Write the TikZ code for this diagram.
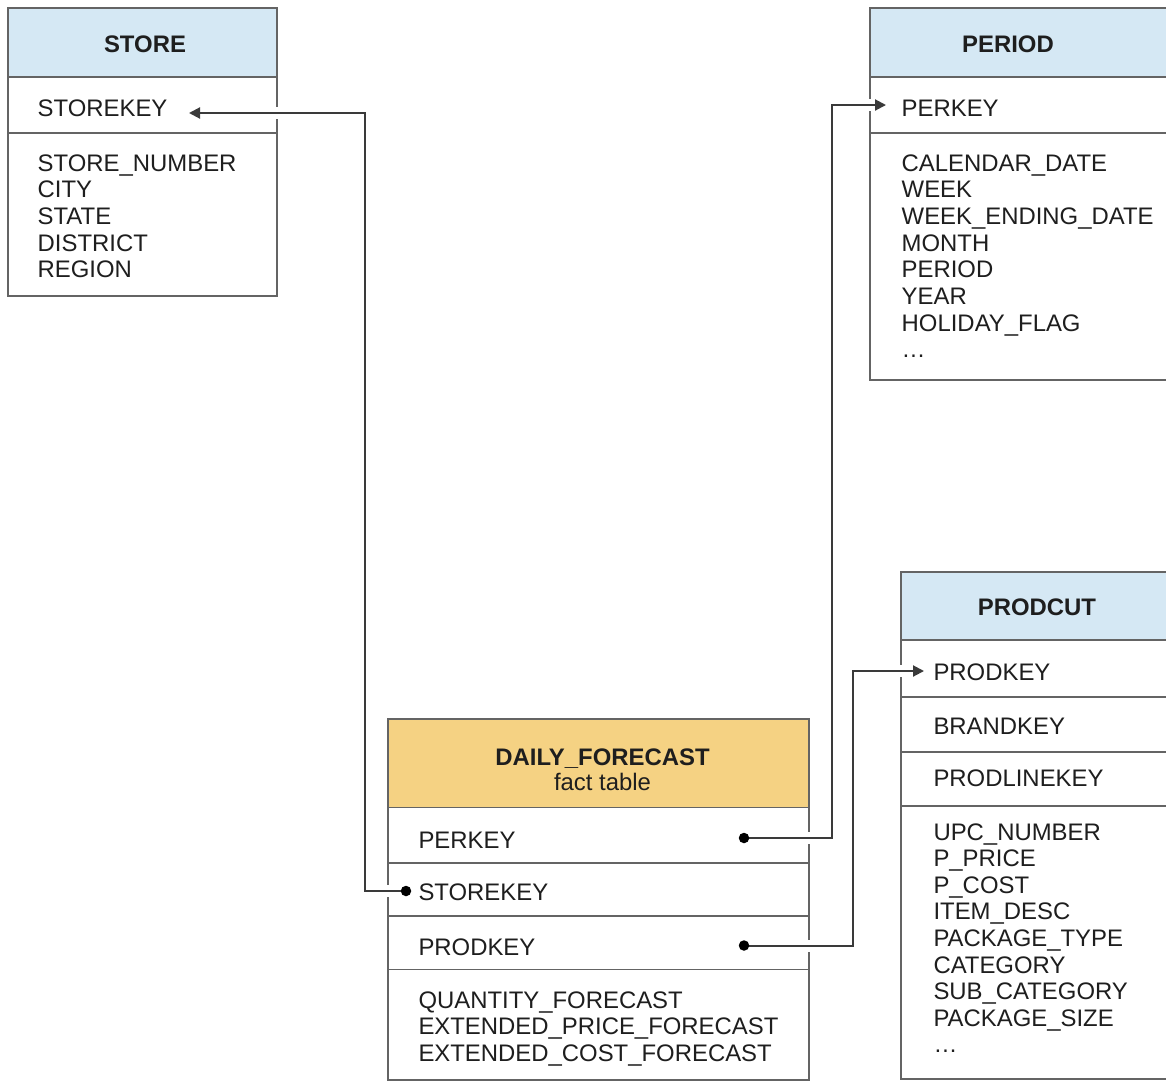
\documentclass[tikz,border=0pt]{standalone}
\usepackage{fontspec}
\setmainfont{Liberation Sans}
\usetikzlibrary{arrows.meta}
\definecolor{bordergray}{HTML}{646464}
\definecolor{conncol}{HTML}{3A3A3A}
\definecolor{textcol}{HTML}{1E1E1E}
\definecolor{hdrblue}{HTML}{D5E8F4}
\definecolor{hdrgold}{HTML}{F5D283}
\tikzset{
  tablebox/.style={draw=bordergray, line width=1.8pt},
  hdrfill/.style={draw=bordergray, line width=1.8pt, fill=#1},
  sepline/.style={draw=bordergray, line width=1.8pt},
  txt/.style={anchor=base west, inner sep=0pt, text=textcol, font=\fontsize{23.9}{26.7}\selectfont},
  hdr/.style={anchor=base, inner sep=0pt, text=textcol, font=\fontsize{23.9}{26.7}\selectfont\bfseries},
  sub/.style={anchor=base, inner sep=0pt, text=textcol, font=\fontsize{23.9}{26.7}\selectfont},
  conn/.style={draw=conncol, line width=2pt},
  arr/.style={-{Triangle[length=11pt,width=11pt]}},
  halo/.style={draw=white, line width=12pt, line cap=butt},
  keydot/.style={circle, fill=black, inner sep=0pt, minimum size=10.5pt}
}
\begin{document}
\begin{tikzpicture}[x=1pt,y=-1pt]
\useasboundingbox[fill=white] (0,0) rectangle (1166,1082);

% ---------- STORE ----------
\draw[hdrfill=hdrblue] (8,8) rectangle (277,77);
\draw[tablebox] (8,8) rectangle (277,296);
\draw[sepline] (8,133) -- (277,133);
\node[hdr] (storeH) at (145,52.7) {STORE};
\node[txt] (storeKey) at (37.5,116) {STOREKEY};
\foreach \t [count=\i from 0] in {STORE\_NUMBER,CITY,STATE,DISTRICT,REGION}
  \node[txt] (storeB\i) at (37.5,171+26.7*\i) {\t};

% ---------- PERIOD ----------
\draw[hdrfill=hdrblue] (870,8) rectangle (1190,77);
\draw[tablebox] (870,8) rectangle (1190,380);
\draw[sepline] (870,133) -- (1190,133);
\node[hdr] (perH) at (1008,52.7) {PERIOD};
\node[txt] (perKey) at (901.5,116) {PERKEY};
\foreach \t [count=\i from 0] in {CALENDAR\_DATE,WEEK,WEEK\_ENDING\_DATE,MONTH,PERIOD,YEAR,HOLIDAY\_FLAG,…}
  \node[txt] (perB\i) at (901.5,171+26.7*\i) {\t};

% ---------- DAILY_FORECAST ----------
\draw[hdrfill=hdrgold] (388,719) rectangle (809,807.5);
\draw[tablebox] (388,719) rectangle (809,1080);
\draw[sepline] (388,863) -- (809,863);
\draw[sepline] (388,916) -- (809,916);
\draw[sepline] (388,969.5) -- (809,969.5);
\node[hdr] (dfH) at (602.5,765) {DAILY\_FORECAST};
\node[sub] (dfSub) at (602.5,790.7) {fact table};
\node[txt] (dfPer) at (418.3,848.3) {PERKEY};
\node[txt] (dfStore) at (418.3,900.7) {STOREKEY};
\node[txt] (dfProd) at (418.3,955) {PRODKEY};
\foreach \t [count=\i from 0] in {QUANTITY\_FORECAST,EXTENDED\_PRICE\_FORECAST,EXTENDED\_COST\_FORECAST}
  \node[txt] (dfB\i) at (418.3,1008.3+26.5*\i) {\t};

% ---------- PRODCUT ----------
\draw[hdrfill=hdrblue] (901,572) rectangle (1190,640);
\draw[tablebox] (901,572) rectangle (1190,1079);
\draw[sepline] (901,697) -- (1190,697);
\draw[sepline] (901,752) -- (1190,752);
\draw[sepline] (901,806) -- (1190,806);
\node[hdr] (prH) at (1037,615) {PRODCUT};
\node[txt] (prKey) at (933.3,680.7) {PRODKEY};
\node[txt] (prBrand) at (933.3,734.3) {BRANDKEY};
\node[txt] (prLine) at (933.3,786.7) {PRODLINEKEY};
\foreach \t [count=\i from 0] in {UPC\_NUMBER,P\_PRICE,P\_COST,ITEM\_DESC,PACKAGE\_TYPE,CATEGORY,SUB\_CATEGORY,PACKAGE\_SIZE,…}
  \node[txt] (prB\i) at (933.3,840+26.6*\i) {\t};

% ---------- connector end points ----------
\coordinate (dfPerDot) at (744,838);
\coordinate (dfStoreDot) at (406,891);
\coordinate (dfProdDot) at (744,945.5);
\coordinate (perTip) at (886,105);
\coordinate (storeTip) at (189,113);
\coordinate (prodTip) at (924,671);

% halos (gaps in borders)
\draw[halo] (dfPerDot) -- ++(87.5,0) |- (perTip);
\draw[halo] (dfStoreDot) -- ++(-41,0) |- (storeTip);
\draw[halo] (dfProdDot) -- ++(108.5,0) |- (prodTip);

% connectors
\draw[conn,arr] (dfPerDot) -- ++(87.5,0) |- (perTip);
\draw[conn,arr] (dfStoreDot) -- ++(-41,0) |- (storeTip);
\draw[conn,arr] (dfProdDot) -- ++(108.5,0) |- (prodTip);

\node[keydot] (d1) at (dfPerDot) {};
\node[keydot] (d2) at (dfStoreDot) {};
\node[keydot] (d3) at (dfProdDot) {};
\end{tikzpicture}
\end{document}
